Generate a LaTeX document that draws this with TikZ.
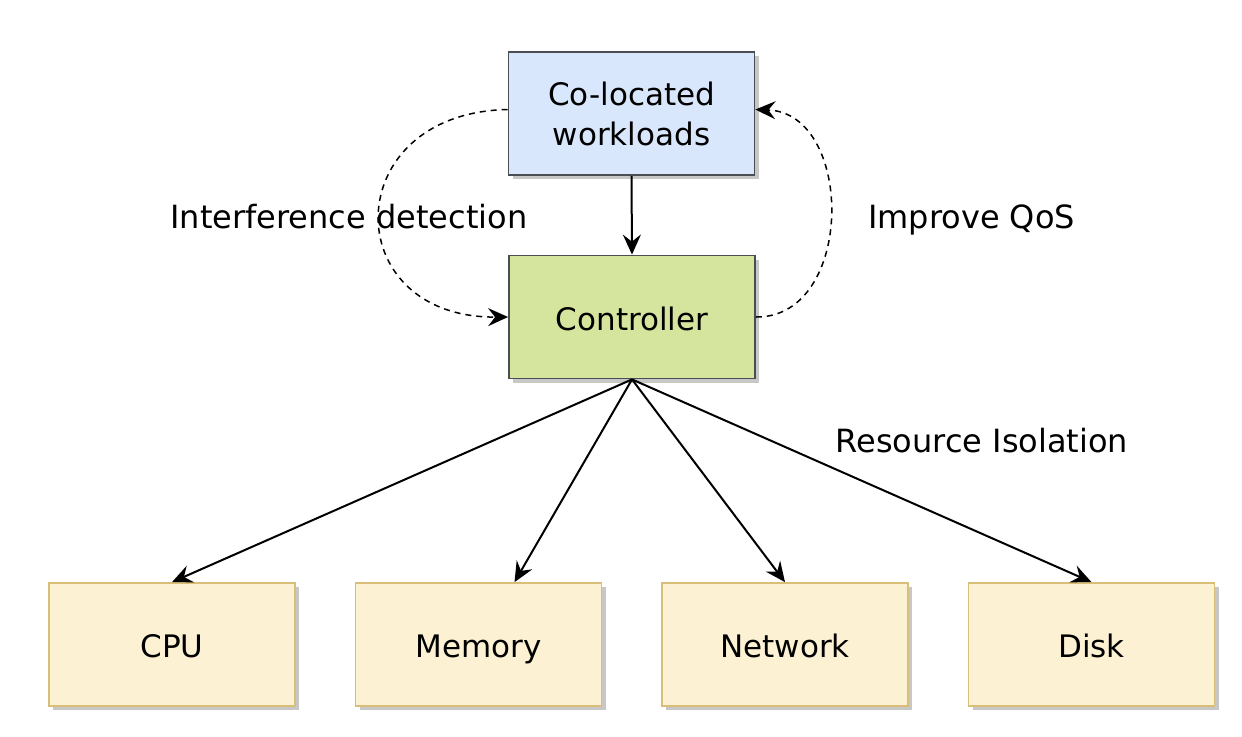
\documentclass[tikz,border=0pt]{standalone}
\usepackage{fontspec}
\setmainfont{DejaVu Sans}
\usetikzlibrary{arrows.meta,shadows}
\definecolor{blueF}{HTML}{D8E7FB}
\definecolor{greenF}{HTML}{D6E59E}
\definecolor{yellowF}{HTML}{FCF2D3}
\definecolor{grayS}{HTML}{4A4D52}
\definecolor{yellowS}{HTML}{D8BE78}
\tikzset{
  box/.style={draw=grayS, line width=0.9pt, inner sep=0pt, align=center,
    minimum width=123pt, font=\fontsize{15.5}{20}\selectfont,
    drop shadow={shadow xshift=2pt, shadow yshift=-2pt, fill=black!22, opacity=1}},
  topbox/.style={box, minimum height=61.5pt},
  onel/.style={text height=13pt, text depth=0pt},
  resbox/.style={box, onel, draw=yellowS, fill=yellowF, minimum height=61.5pt},
  lbl/.style={font=\fontsize{16}{20}\selectfont, inner sep=0pt,
    text height=12pt, text depth=0pt},
  tip/.style={-{Stealth[length=10pt,width=9pt,inset=3.5pt]}},
  arr/.style={line width=1pt, tip},
  darr/.style={line width=0.75pt, dash pattern=on 3pt off 2.5pt, tip}
}
\begin{document}
\begin{tikzpicture}[x=0.5pt,y=-0.5pt]
\useasboundingbox (0,0) rectangle (1242,736);
\node[topbox, fill=blueF] (wl) at (631.5,113.5) {Co-located\\workloads};
\node[topbox, onel, fill=greenF] (ctl) at (632,317) {Controller};
\node[resbox] (cpu) at (172,644.5) {CPU};
\node[resbox] (mem) at (478.5,644.5) {Memory};
\node[resbox] (net) at (785,644.5) {Network};
\node[resbox] (disk) at (1091.5,644.5) {Disk};

\draw[arr] (wl.south) -- (ctl.north);
\draw[arr] (ctl.south) -- (cpu.north);
\draw[arr] (ctl.south) -- ([xshift=18pt]mem.north);
\draw[arr] (ctl.south) -- (net.north);
\draw[arr] (ctl.south) -- (disk.north);

\draw[darr] ([yshift=2pt]wl.west) .. controls (337,113) and (337,318) .. (ctl.west);
\draw[darr] (ctl.east) .. controls (855,318) and (855,113) .. ([yshift=2pt]wl.east);

\node[lbl] (l1) at (349,216) {Interference detection};
\node[lbl] (l2) at (971.5,216) {Improve QoS};
\node[lbl] (l3) at (982,440) {Resource Isolation};
\end{tikzpicture}
\end{document}
